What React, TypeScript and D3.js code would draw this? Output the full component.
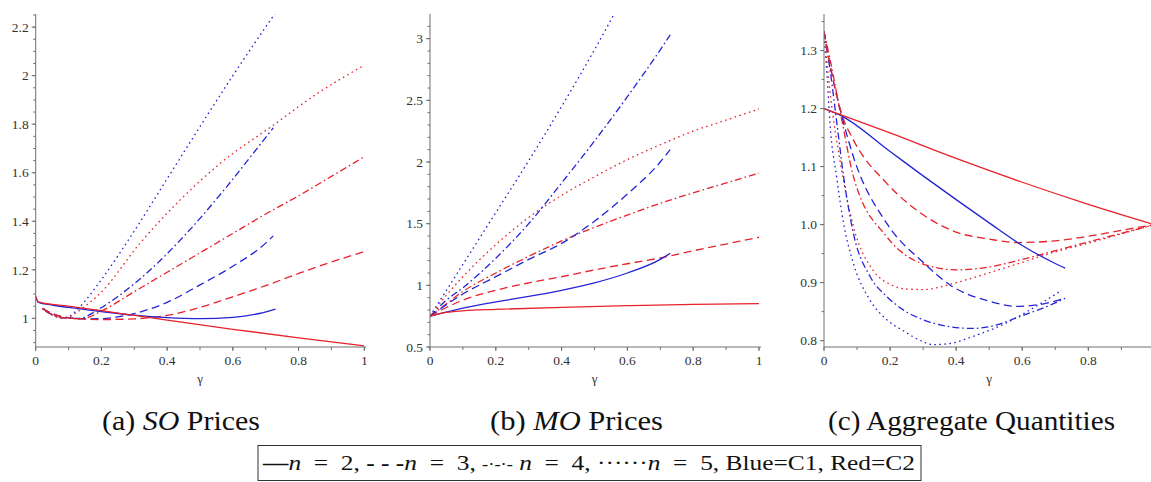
import * as d3 from "d3";

// ---- data (gamma, value) ----
const gammaTicks = [0, 0.2, 0.4, 0.6, 0.8, 1];

// (a) SO prices
const soTicks = [1, 1.2, 1.4, 1.6, 1.8, 2, 2.2];
const soBlue2 = [[0, 1.09], [0.008, 1.066], [0.05, 1.055], [0.1, 1.045], [0.2, 1.028], [0.3, 1.013], [0.4, 1.003], [0.5, 0.999], [0.6, 1.004], [0.68, 1.02], [0.73, 1.038]];
const soRed2 = [[0, 1.09], [0.008, 1.068], [0.1, 1.05], [0.2, 1.032], [0.3, 1.012], [0.4, 0.993], [0.6, 0.955], [0.8, 0.92], [1, 0.887]];
const soBlue3 = [[0.02, 1.04], [0.05, 1.02], [0.1, 1.003], [0.15, 0.998], [0.2, 0.999], [0.25, 1.006], [0.3, 1.02], [0.4, 1.066], [0.5, 1.138], [0.6, 1.215], [0.7, 1.31], [0.723, 1.34]];
const soRed3 = [[0.02, 1.04], [0.05, 1.02], [0.1, 1.002], [0.2, 0.995], [0.3, 0.998], [0.4, 1.012], [0.5, 1.045], [0.6, 1.089], [0.7, 1.135], [0.8, 1.185], [0.9, 1.232], [1, 1.275]];
const soBlue4 = [[0.03, 1.03], [0.08, 1.003], [0.13, 1.0], [0.196, 1.041], [0.25, 1.09], [0.348, 1.199], [0.459, 1.35], [0.581, 1.542], [0.662, 1.68], [0.723, 1.785]];
const soRed4 = [[0.03, 1.03], [0.08, 1.003], [0.14, 0.998], [0.2, 1.03], [0.3, 1.11], [0.4, 1.19], [0.5, 1.27], [0.6, 1.35], [0.7, 1.43], [0.8, 1.505], [0.9, 1.585], [1, 1.666]];
const soBlue5 = [[0.023, 1.041], [0.054, 1.012], [0.085, 1.0], [0.114, 1.02], [0.135, 1.048], [0.2, 1.16], [0.3, 1.36], [0.4, 1.575], [0.5, 1.79], [0.6, 2.0], [0.728, 2.256]];
const soRed5 = [[0.023, 1.041], [0.054, 1.012], [0.085, 1.0], [0.12, 1.02], [0.15, 1.05], [0.196, 1.103], [0.317, 1.309], [0.439, 1.487], [0.561, 1.638], [0.723, 1.796], [0.85, 1.92], [1, 2.043]];

// (b) MO prices
const moTicks = [0.5, 1, 1.5, 2, 2.5, 3];
const moRed2 = [[0, 0.75], [0.05, 0.78], [0.1, 0.793], [0.2, 0.805], [0.4, 0.822], [0.6, 0.835], [0.8, 0.845], [1, 0.851]];
const moBlue2 = [[0, 0.75], [0.1, 0.815], [0.2, 0.865], [0.3, 0.91], [0.4, 0.96], [0.5, 1.02], [0.6, 1.1], [0.7, 1.21], [0.73, 1.26]];
const moRed3 = [[0, 0.75], [0.05, 0.82], [0.1, 0.88], [0.2, 0.96], [0.3, 1.02], [0.4, 1.07], [0.5, 1.125], [0.6, 1.175], [0.7, 1.222], [0.8, 1.28], [0.9, 1.335], [1, 1.39]];
const moBlue3 = [[0, 0.75], [0.1, 0.93], [0.2, 1.07], [0.3, 1.21], [0.4, 1.34], [0.5, 1.52], [0.6, 1.74], [0.7, 2.0], [0.73, 2.1]];
const moRed4 = [[0, 0.75], [0.05, 0.85], [0.1, 0.95], [0.2, 1.1], [0.3, 1.235], [0.4, 1.36], [0.5, 1.47], [0.6, 1.57], [0.7, 1.665], [0.8, 1.75], [0.9, 1.83], [1, 1.91]];
const moBlue4 = [[0, 0.75], [0.05, 0.88], [0.1, 0.98], [0.2, 1.22], [0.3, 1.5], [0.4, 1.83], [0.5, 2.17], [0.6, 2.53], [0.7, 2.91], [0.73, 3.03]];
const moRed5 = [[0, 0.75], [0.05, 0.92], [0.1, 1.07], [0.2, 1.33], [0.3, 1.55], [0.4, 1.73], [0.5, 1.88], [0.6, 2.02], [0.7, 2.14], [0.8, 2.25], [0.9, 2.34], [1, 2.43]];
const moBlue5 = [[0, 0.75], [0.1, 1.17], [0.2, 1.59], [0.3, 2.01], [0.4, 2.45], [0.5, 2.91], [0.6, 3.4]];

// (c) aggregate quantities
const aqTicks = [0.8, 0.9, 1.0, 1.1, 1.2, 1.3];
const aqXLabels = [0, 0.2, 0.4, 0.6, 0.8];
const aqRed2 = [[0, 1.2], [0.2, 1.158], [0.4, 1.114], [0.6, 1.073], [0.8, 1.035], [1, 1.0]];
const aqBlue2 = [[0, 1.2], [0.054, 1.187], [0.2, 1.126], [0.3, 1.084], [0.4, 1.043], [0.5, 1.003], [0.6, 0.964], [0.7, 0.933], [0.73, 0.925]];
const aqRed3 = [[0, 1.333], [0.02, 1.27], [0.054, 1.19], [0.089, 1.146], [0.19, 1.071], [0.3, 1.017], [0.4, 0.987], [0.5, 0.975], [0.583, 0.969], [0.7, 0.972], [0.8, 0.98], [0.9, 0.99], [1, 1.0]];
const aqBlue3 = [[0, 1.333], [0.02, 1.27], [0.054, 1.187], [0.089, 1.117], [0.19, 1.002], [0.3, 0.935], [0.381, 0.896], [0.5, 0.868], [0.583, 0.859], [0.65, 0.862], [0.73, 0.873]];
const aqRed4 = [[0, 1.333], [0.02, 1.28], [0.054, 1.18], [0.089, 1.083], [0.19, 0.979], [0.3, 0.932], [0.4, 0.922], [0.5, 0.927], [0.6, 0.94], [0.7, 0.955], [0.8, 0.97], [0.9, 0.985], [1, 1.0]];
const aqBlue4 = [[0, 1.333], [0.02, 1.26], [0.04, 1.17], [0.06, 1.08], [0.089, 0.985], [0.14, 0.91], [0.19, 0.876], [0.24, 0.853], [0.3, 0.836], [0.381, 0.824], [0.45, 0.821], [0.5, 0.824], [0.6, 0.843], [0.7, 0.865], [0.73, 0.873]];
const aqRed5 = [[0, 1.333], [0.02, 1.22], [0.048, 1.112], [0.089, 0.997], [0.15, 0.92], [0.2, 0.897], [0.25, 0.889], [0.3, 0.888], [0.4, 0.9], [0.5, 0.917], [0.6, 0.935], [0.7, 0.953], [0.8, 0.968], [0.9, 0.984], [1, 1.0]];
const aqBlue5 = [[0, 1.333], [0.01, 1.25], [0.018, 1.175], [0.038, 1.083], [0.06, 1.0], [0.089, 0.933], [0.139, 0.87], [0.19, 0.836], [0.24, 0.817], [0.3, 0.798], [0.33, 0.793], [0.381, 0.795], [0.45, 0.807], [0.55, 0.83], [0.65, 0.862], [0.72, 0.887]];

const BLUE = "#2424d6";
const RED = "#e8222b";
const DASH: Record<number, string | undefined> = {
  2: undefined,
  3: "8 4.5",
  4: "7 3 1.6 3",
  5: "1.6 3.4",
};

type Pt = number[];
type Series = { data: Pt[]; color: string; n: number };

const mk = (b2: Pt[], r2: Pt[], b3: Pt[], r3: Pt[], b4: Pt[], r4: Pt[], b5: Pt[], r5: Pt[]): Series[] => [
  { data: b5, color: BLUE, n: 5 },
  { data: r5, color: RED, n: 5 },
  { data: b4, color: BLUE, n: 4 },
  { data: r4, color: RED, n: 4 },
  { data: b3, color: BLUE, n: 3 },
  { data: r3, color: RED, n: 3 },
  { data: b2, color: BLUE, n: 2 },
  { data: r2, color: RED, n: 2 },
];

type PanelProps = {
  id: string;
  x0: number;
  x1: number;
  yDomain: [number, number];
  yTicks: number[];
  xLabels?: number[];
  yMinor: number;
  fmt: (v: number) => string;
  series: Series[];
};

const TOP = 14;
const BOTTOM = 347;
const FONT = "Liberation Serif";
const AXIS = "#707070";
const tick = { fontFamily: FONT, fontSize: 13.5, fill: "#333" };

function Panel({ id, x0, x1, yDomain, yTicks, xLabels = gammaTicks, yMinor, fmt, series }: PanelProps) {
  const x = d3.scaleLinear().domain([0, 1]).range([x0, x1]);
  const y = d3.scaleLinear().domain(yDomain).range([BOTTOM, TOP]);
  const line = d3
    .line<Pt>()
    .x((d) => x(d[0]))
    .y((d) => y(d[1]))
    .curve(d3.curveMonotoneX);
  const minorY = d3.range(Math.ceil(yDomain[0] / yMinor) * yMinor, yDomain[1], yMinor);
  const minorX = d3.range(0, 1.0001, 0.1);
  return (
    <g>
      <defs>
        <clipPath id={id}>
          <rect x={x0} y={TOP} width={x1 - x0} height={BOTTOM - TOP} />
        </clipPath>
      </defs>
      <g clipPath={`url(#${id})`} fill="none" strokeWidth={1.3}>
        {series.map((s, i) => (
          <path key={i} d={line(s.data) || ""} stroke={s.color} strokeDasharray={DASH[s.n]} />
        ))}
      </g>
      {/* axes */}
      <g stroke={AXIS} strokeWidth={1}>
        <line x1={x0} x2={x0} y1={TOP} y2={BOTTOM} />
        <line x1={x0} x2={x1 + 2} y1={BOTTOM} y2={BOTTOM} />
        {minorY.map((v, i) => (
          <line key={"my" + i} x1={x0 - 2.5} x2={x0} y1={y(v)} y2={y(v)} />
        ))}
        {yTicks.map((v) => (
          <line key={"y" + v} x1={x0 - 4} x2={x0} y1={y(v)} y2={y(v)} />
        ))}
        {minorX.map((v, i) => (
          <line key={"mx" + i} x1={x(v)} x2={x(v)} y1={BOTTOM} y2={BOTTOM + 3} />
        ))}
        {gammaTicks.map((v) => (
          <line key={"x" + v} x1={x(v)} x2={x(v)} y1={BOTTOM} y2={BOTTOM + 4} />
        ))}
      </g>
      {yTicks.map((v) => (
        <text key={"ty" + v} {...tick} x={x0 - 7} y={y(v)} dy="0.35em" textAnchor="end">
          {fmt(v)}
        </text>
      ))}
      {xLabels.map((v) => (
        <text key={"tx" + v} {...tick} x={x(v)} y={365} textAnchor="middle">
          {String(v)}
        </text>
      ))}
      <text {...tick} x={(x0 + x1) / 2} y={383} textAnchor="middle" fontSize={13}>
        γ
      </text>
    </g>
  );
}

const cap = { fontFamily: FONT, fontSize: 27, fill: "#111", lengthAdjust: "spacingAndGlyphs" };

export default function App() {
  return (
    <svg
      width={1151}
      height={482}
      style={{ position: "absolute", left: 0, top: 0, background: "#fff" }}
    >
      <Panel
        id="clipA"
        x0={35.7}
        x1={364.3}
        yDomain={[0.882, 2.254]}
        yTicks={soTicks}
        yMinor={0.05}
        fmt={(v) => String(v)}
        series={mk(soBlue2, soRed2, soBlue3, soRed3, soBlue4, soRed4, soBlue5, soRed5)}
      />
      <Panel
        id="clipB"
        x0={430}
        x1={759}
        yDomain={[0.5, 3.2]}
        yTicks={moTicks}
        yMinor={0.1}
        fmt={(v) => String(v)}
        series={mk(moBlue2, moRed2, moBlue3, moRed3, moBlue4, moRed4, moBlue5, moRed5)}
      />
      <Panel
        id="clipC"
        x0={824}
        x1={1154.4}
        yDomain={[0.789, 1.363]}
        yTicks={aqTicks}
        xLabels={aqXLabels}
        yMinor={0.05}
        fmt={(v) => v.toFixed(1)}
        series={mk(aqBlue2, aqRed2, aqBlue3, aqRed3, aqBlue4, aqRed4, aqBlue5, aqRed5)}
      />

      {/* sub captions */}
      <text {...cap} x={102} y={430} textLength={158}>
        (a) <tspan fontStyle="italic">SO</tspan> Prices
      </text>
      <text {...cap} x={490} y={430} textLength={173}>
        (b) <tspan fontStyle="italic">MO</tspan> Prices
      </text>
      <text {...cap} x={828} y={430} textLength={287}>
        (c) Aggregate Quantities
      </text>

      {/* legend */}
      <rect x={258} y={445.5} width={663} height={35} fill="none" stroke="#333" strokeWidth={1} />
      <text
        x={263}
        y={470}
        fontFamily={FONT}
        fontSize={22}
        fill="#111"
        textLength={652}
        lengthAdjust="spacingAndGlyphs"
      >
        <tspan fontWeight="bold">—</tspan>
        <tspan fontStyle="italic">n</tspan>{"\u2002=\u20022, "}
        <tspan fontWeight="bold">- - -</tspan>
        <tspan fontStyle="italic">n</tspan>{"\u2002=\u20023, "}
        <tspan fontSize={16}>-·-·-</tspan>{" "}
        <tspan fontStyle="italic">n</tspan>{"\u2002=\u20024, ······"}
        <tspan fontStyle="italic">n</tspan>{"\u2002=\u20025, Blue=C1, Red=C2"}
      </text>
    </svg>
  );
}
